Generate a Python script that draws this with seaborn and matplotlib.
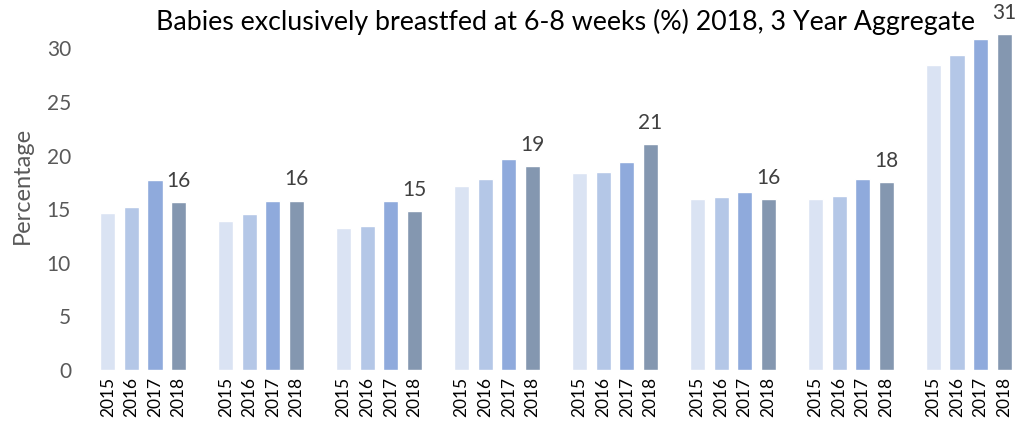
import matplotlib
matplotlib.use("Agg")
import matplotlib.pyplot as plt
import pandas as pd
import seaborn as sns

# values (8 unlabeled areas, 4 years each)
years = ["2015", "2016", "2017", "2018"]
y2015 = [14.6, 13.9, 13.2, 17.2, 18.4, 15.9, 15.9, 28.4]
y2016 = [15.2, 14.5, 13.4, 17.8, 18.5, 16.1, 16.2, 29.4]
y2017 = [17.7, 15.8, 15.8, 19.7, 19.4, 16.6, 17.8, 30.9]
y2018 = [15.7, 15.8, 14.8, 19.0, 21.1, 15.9, 17.5, 31.3]
colors = ["#DAE3F3", "#B4C7E7", "#8FAADC", "#8497B0"]

series = dict(zip(years, [y2015, y2016, y2017, y2018]))
rows = []
for g in range(len(y2018)):
    for j, yr in enumerate(years):
        # 4 bars per area plus one empty slot between areas
        rows.append({"pos": g * 5 + j, "year": yr, "value": series[yr][g]})
df = pd.DataFrame(rows)

sns.set_theme(style="white")
plt.rcParams["font.family"] = ["Lato", "DejaVu Sans"]

fig = plt.figure(figsize=(10.21, 4.26), dpi=100)
ax = fig.add_axes([96 / 1021, 56 / 426, 920 / 1021, 370 / 426])

sns.barplot(
    data=df, x="pos", y="value", hue="year",
    palette=dict(zip(years, colors)), saturation=1,
    native_scale=True, dodge=False, width=0.64,
    legend=False, ax=ax,
)

# data labels on the 2018 bars only
ax.bar_label(ax.containers[-1], fmt="{:.0f}", padding=8,
             fontsize=15, color="#404040")

ax.set_xlim(-0.5, 38.5)
ax.set_ylim(0, 34.5)
ax.set_yticks(range(0, 31, 5))
ax.set_xticks(df["pos"])
ax.set_xticklabels(df["year"], rotation=90, fontsize=12.5, color="#000000")
ax.tick_params(axis="y", labelsize=15, colors="#595959", length=0, pad=18)
ax.tick_params(axis="x", length=0, pad=5)
ax.set_xlabel("")
ax.set_ylabel("Percentage", fontsize=17, color="#595959", labelpad=10)
sns.despine(ax=ax, left=True, bottom=True)

fig.text(565 / 1021, 1 - 22 / 426,
         "Babies exclusively breastfed at 6-8 weeks (%) 2018, 3 Year Aggregate",
         ha="center", va="center", fontsize=19.3, color="#000000")

fig.savefig("out.png", dpi=100)
